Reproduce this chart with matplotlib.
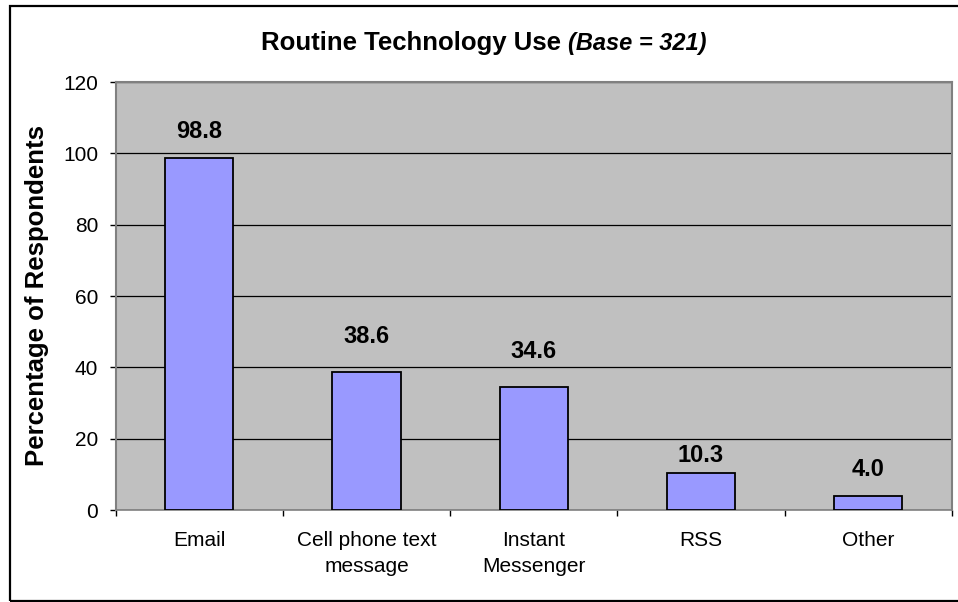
import matplotlib
matplotlib.use('Agg')
import matplotlib.pyplot as plt
from matplotlib.patches import Rectangle
import numpy as np

plt.rcParams['font.family'] = ['Liberation Sans', 'DejaVu Sans']

categories = ['Email', 'Cell phone text\nmessage', 'Instant\nMessenger', 'RSS', 'Other']
values = [98.8, 38.6, 34.6, 10.3, 4.0]
yticks = [0, 20, 40, 60, 80, 100, 120]
# gap (px) between bar top and label baseline, as placed in the original
label_gap_px = [20, 29, 29, 11, 20]

fig = plt.figure(figsize=(9.58, 6.02), dpi=100)

# outer chart border (runs off the right edge in the reference)
fig.patches.append(Rectangle((9.5 / 958, 1 / 602), 1.0, 595 / 602,
                             transform=fig.transFigure, fill=False,
                             edgecolor='black', linewidth=1.6))

ax = fig.add_axes([115.7 / 958, (602 - 510) / 602, 836 / 958, 428 / 602])
ax.set_facecolor('#C0C0C0')

x = np.arange(len(categories))
ax.bar(x, values, width=0.407, color='#9999FF', edgecolor='black',
       linewidth=1.3, zorder=3)

for xi, v, g in zip(x, values, label_gap_px):
    ax.annotate(f'{v:.1f}', (xi, v), xytext=(0, g * 0.72),
                textcoords='offset points', ha='center', va='baseline',
                fontsize=17, fontweight='bold', zorder=4)

ax.set_xlim(-0.5, len(categories) - 0.5)
ax.set_ylim(0, 120)
ax.set_yticks(yticks)
ax.yaxis.grid(True, color='black', linewidth=0.9, zorder=1)
ax.set_axisbelow(True)

# category ticks sit between bars
ax.set_xticks(np.arange(len(categories) + 1) - 0.5)
ax.set_xticklabels([])
ax.set_xticks(x, minor=True)
ax.set_xticklabels(categories, minor=True, fontsize=15, linespacing=1.45)
ax.tick_params(axis='x', which='minor', length=0, pad=15)
ax.tick_params(axis='x', which='major', length=4.5, direction='out', width=1)
ax.tick_params(axis='y', length=4.5, width=1, labelsize=15, pad=8)

for s in ['top', 'right', 'left']:
    ax.spines[s].set_color('#808080')
    ax.spines[s].set_linewidth(1.5)
ax.spines['bottom'].set_color('#808080')
ax.spines['bottom'].set_linewidth(1.2)

ax.set_ylabel('Percentage of Respondents', fontsize=18.5, fontweight='bold',
              labelpad=10)

fig.text(0.593, 1 - 50 / 602, 'Routine Technology Use ', ha='right',
         va='baseline', fontsize=18.5, fontweight='bold')
fig.text(0.593, 1 - 50 / 602, '(Base = 321)', ha='left', va='baseline',
         fontsize=17, fontweight='bold', style='italic')

fig.savefig('out.png', dpi=100)
